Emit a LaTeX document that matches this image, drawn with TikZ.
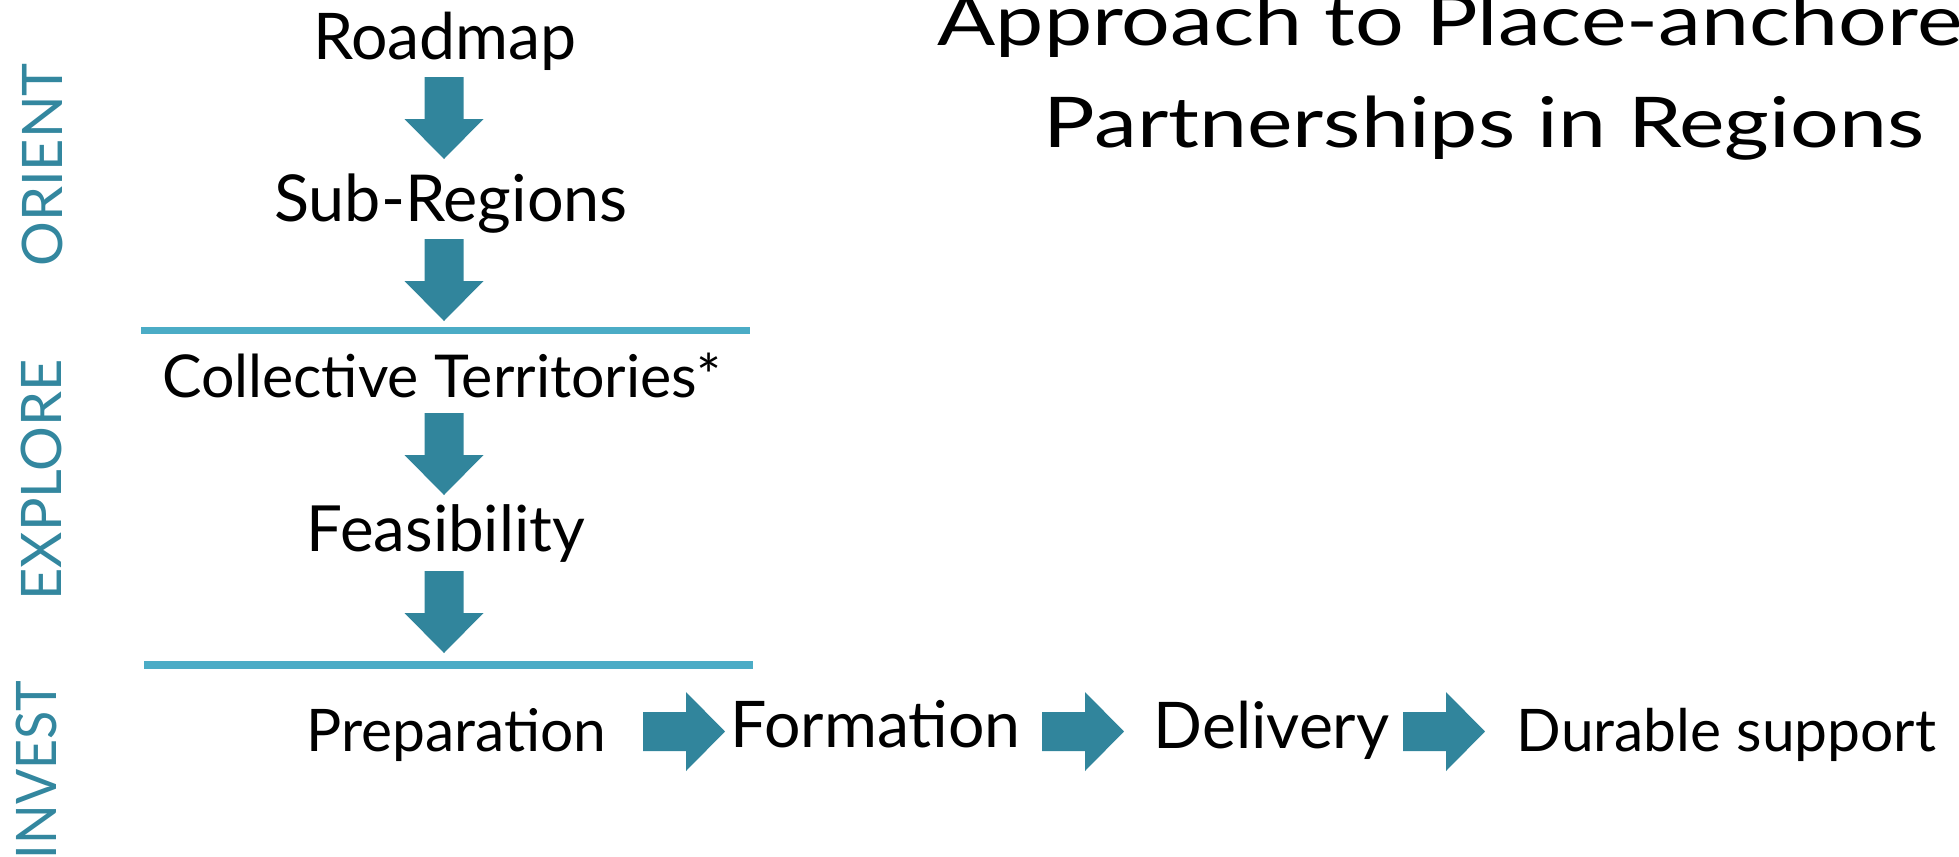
\documentclass[tikz,border=0pt]{standalone}
\usepackage{fontspec}
\setmainfont{Lato}
\definecolor{tealarrow}{HTML}{31859C}
\definecolor{tealline}{HTML}{4BACC6}
\definecolor{teallabel}{HTML}{33879F}
\begin{document}
\begin{tikzpicture}[x=0.01cm,y=-0.01cm,
  lbl/.style={inner sep=0pt,anchor=base,text=black},
  side/.style={inner sep=0pt,rotate=90,text=teallabel,font=\fontsize{15.9}{18}\selectfont},
  sep/.style={draw=tealline,line width=2.2pt},
  downarr/.pic={\fill[tealarrow] (-19.5,0) -- (19.5,0) -- (19.5,42) -- (39.5,42) -- (0,82) -- (-39.5,42) -- (-19.5,42) -- cycle;},
  rightarr/.pic={\fill[tealarrow] (0,-19.5) -- (43,-19.5) -- (43,-39.5) -- (82,0) -- (43,39.5) -- (43,19.5) -- (0,19.5) -- cycle;}
]
\useasboundingbox (0,0) rectangle (1959,857);
% title
\node[lbl,font=\fontsize{19.9}{24}\selectfont] (t1) at (1474,45) {\scalebox{1.23}[1]{Approach to Place-anchored}};
\node[lbl,font=\fontsize{19.9}{24}\selectfont] (t2) at (1484,147) {\scalebox{1.23}[1]{Partnerships in Regions}};
% side labels
\node[side,anchor=base] (orient) at (62,165) {ORIENT};
\node[side,anchor=base] (explore) at (61,480) {EXPLORE};
\node[side,anchor=base east] (invest) at (57,680) {\scalebox{0.93}[1]{INVEST}};
% vertical chain
\node[lbl,font=\fontsize{18.3}{22}\selectfont] (road) at (445,59) {Roadmap};
\node[lbl,font=\fontsize{18.4}{22}\selectfont] (sub) at (451,221) {Sub-Regions};
\node[lbl,font=\fontsize{16.8}{20}\selectfont] (coll) at (442,397) {Collective Territories*};
\node[lbl,font=\fontsize{18.1}{21}\selectfont] (feas) at (446,551) {Feasibility};
% horizontal chain
\node[lbl,font=\fontsize{16.7}{20}\selectfont] (prep) at (456.5,751) {Preparation};
\node[lbl,font=\fontsize{18.3}{22}\selectfont] (form) at (875.5,747) {Formation};
\node[lbl,font=\fontsize{18.3}{22}\selectfont] (deli) at (1271.5,748) {Delivery};
\node[lbl,font=\fontsize{16.7}{20}\selectfont] (dura) at (1726.5,751) {Durable support};
% separators
\coordinate (s1a) at (141,330.5); \coordinate (s1b) at (750,330.5);
\coordinate (s2a) at (144,665); \coordinate (s2b) at (753,665);
\draw[sep] (s1a) -- (s1b);
\draw[sep] (s2a) -- (s2b);
% arrows
\coordinate (a1) at (444,77);
\coordinate (a2) at (444,239);
\coordinate (a3) at (444,413);
\coordinate (a4) at (444,571);
\coordinate (b1) at (643,731.5);
\coordinate (b2) at (1042,731.5);
\coordinate (b3) at (1403,731.5);
\pic at (a1) {downarr};
\pic at (a2) {downarr};
\pic at (a3) {downarr};
\pic at (a4) {downarr};
\pic at (b1) {rightarr};
\pic at (b2) {rightarr};
\pic at (b3) {rightarr};
\end{tikzpicture}
\end{document}
